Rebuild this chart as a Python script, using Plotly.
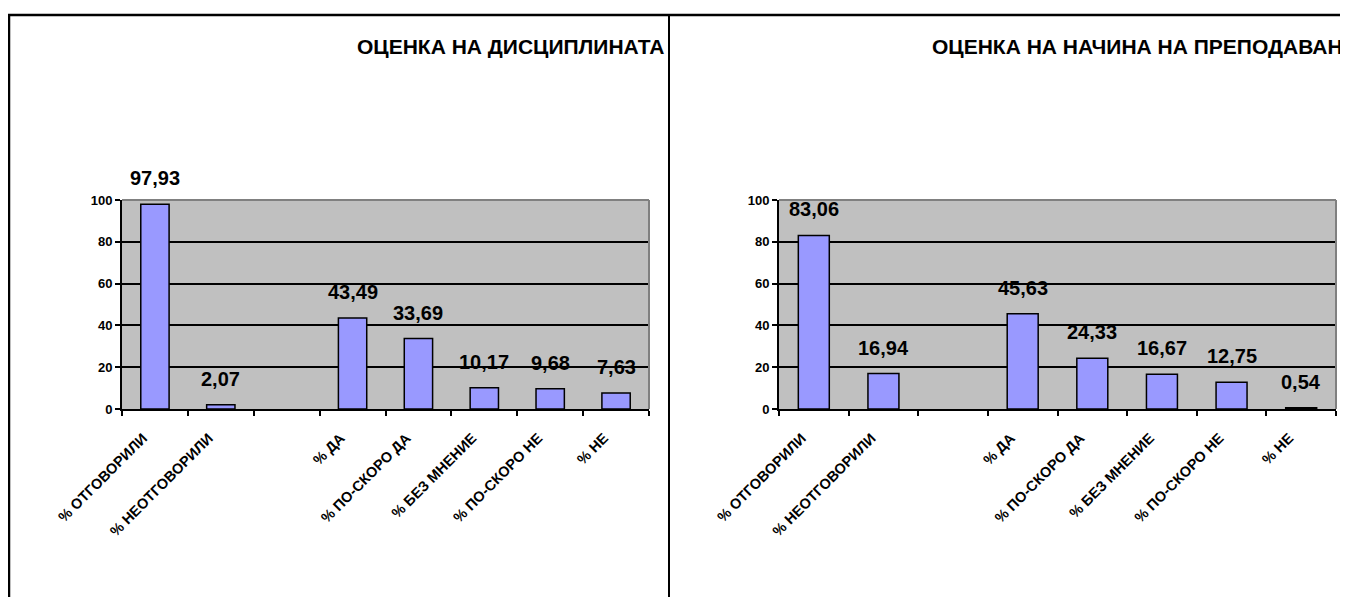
import plotly.graph_objects as go

categories = ["% ОТГОВОРИЛИ", "% НЕОТГОВОРИЛИ", " ", "% ДА", "% ПО-СКОРО ДА",
              "% БЕЗ МНЕНИЕ", "% ПО-СКОРО НЕ", "% НЕ"]
left_values = [97.93, 2.07, None, 43.49, 33.69, 10.17, 9.68, 7.63]
right_values = [83.06, 16.94, None, 45.63, 24.33, 16.67, 12.75, 0.54]
left_title = "ОЦЕНКА НА ДИСЦИПЛИНАТА"
right_title = "ОЦЕНКА НА НАЧИНА НА ПРЕПОДАВАНЕ"
y_ticks = [0, 20, 40, 60, 80, 100]

# page body has an 8px margin, so positions are offset by it
OFF = 8
W, H = 1348, 597 - OFF
FONT = "Liberation Sans, Arial, sans-serif"

def px_x(v):
    return (v - OFF) / W

def px_y(v):
    return 1 - (v - OFF) / H

fig = go.Figure()

fig.add_trace(go.Bar(x=categories, y=left_values, width=0.43,
                     marker=dict(color="#9999FF", line=dict(color="black", width=1.5)),
                     xaxis="x", yaxis="y", showlegend=False, hoverinfo="skip"))
fig.add_trace(go.Bar(x=categories, y=right_values, width=0.445,
                     marker=dict(color="#9999FF", line=dict(color="black", width=1.5)),
                     xaxis="x2", yaxis="y2", showlegend=False, hoverinfo="skip"))

annotations = []
for vals, xr, yr in [(left_values, "x", "y"), (right_values, "x2", "y2")]:
    for c, v in zip(categories, vals):
        if v is None:
            continue
        annotations.append(dict(x=c, y=v, xref=xr, yref=yr,
                                text=f"{v:.2f}".replace(".", ","),
                                showarrow=False, yanchor="middle", yshift=26,
                                font=dict(family=FONT, size=20, color="black", weight="bold")))

annotations.append(dict(x=px_x(666), y=px_y(47), xref="paper", yref="paper",
                        text=left_title, showarrow=False, xanchor="right", yanchor="middle",
                        font=dict(family=FONT, size=21, color="black", weight="bold")))
annotations.append(dict(x=px_x(930), y=px_y(47), xref="paper", yref="paper",
                        text=right_title, showarrow=False, xanchor="left", yanchor="middle",
                        font=dict(family=FONT, size=21, color="black", weight="bold")))

xaxis_common = dict(type="category", categoryorder="array", categoryarray=categories,
                    showline=True, linecolor="black", linewidth=2,
                    ticks="outside", tickson="boundaries", ticklen=5, tickwidth=1.5,
                    tickcolor="black", tickangle=-45, showgrid=False, zeroline=False,
                    ticklabelshift=-12, ticklabelstandoff=13, automargin=False,
                    tickfont=dict(family=FONT, size=14.5, color="black", weight="bold"),
                    fixedrange=True)
yaxis_common = dict(range=[0, 100], tickvals=y_ticks, showline=True, linecolor="black",
                    linewidth=2, ticks="outside", ticklen=5, tickwidth=1.5, tickcolor="black",
                    showgrid=True, gridcolor="black", gridwidth=2, zeroline=False,
                    automargin=False,
                    tickfont=dict(family=FONT, size=13, color="black", weight="bold"),
                    fixedrange=True)

shapes = [
    dict(type="line", xref="paper", yref="paper", x0=px_x(8), x1=1, y0=px_y(15), y1=px_y(15),
         line=dict(color="black", width=2.5)),
    dict(type="line", xref="paper", yref="paper", x0=px_x(9), x1=px_x(9), y0=0, y1=px_y(15),
         line=dict(color="black", width=2.5)),
    dict(type="line", xref="paper", yref="paper", x0=px_x(669), x1=px_x(669), y0=0, y1=px_y(15),
         line=dict(color="black", width=2)),
]
for xr, yr in [("x domain", "y domain"), ("x2 domain", "y2 domain")]:
    shapes.append(dict(type="line", xref=xr, yref=yr, x0=0, x1=1, y0=1, y1=1,
                       line=dict(color="#808080", width=2), layer="above"))
    shapes.append(dict(type="line", xref=xr, yref=yr, x0=1, x1=1, y0=0, y1=1,
                       line=dict(color="#808080", width=2), layer="above"))

fig.update_layout(
    width=W, height=H, autosize=False,
    margin=dict(l=0, r=0, t=0, b=0, pad=0, autoexpand=False),
    paper_bgcolor="white", plot_bgcolor="#C0C0C0",
    xaxis=dict(domain=[px_x(122), px_x(649)], anchor="y", **xaxis_common),
    yaxis=dict(domain=[px_y(409), px_y(200)], anchor="x", **yaxis_common),
    xaxis2=dict(domain=[px_x(779), px_x(1336)], anchor="y2", **xaxis_common),
    yaxis2=dict(domain=[px_y(409), px_y(200)], anchor="x2", **yaxis_common),
    annotations=annotations,
    shapes=shapes,
    showlegend=False,
)

fig.write_html("out.html", config={"displayModeBar": False})
